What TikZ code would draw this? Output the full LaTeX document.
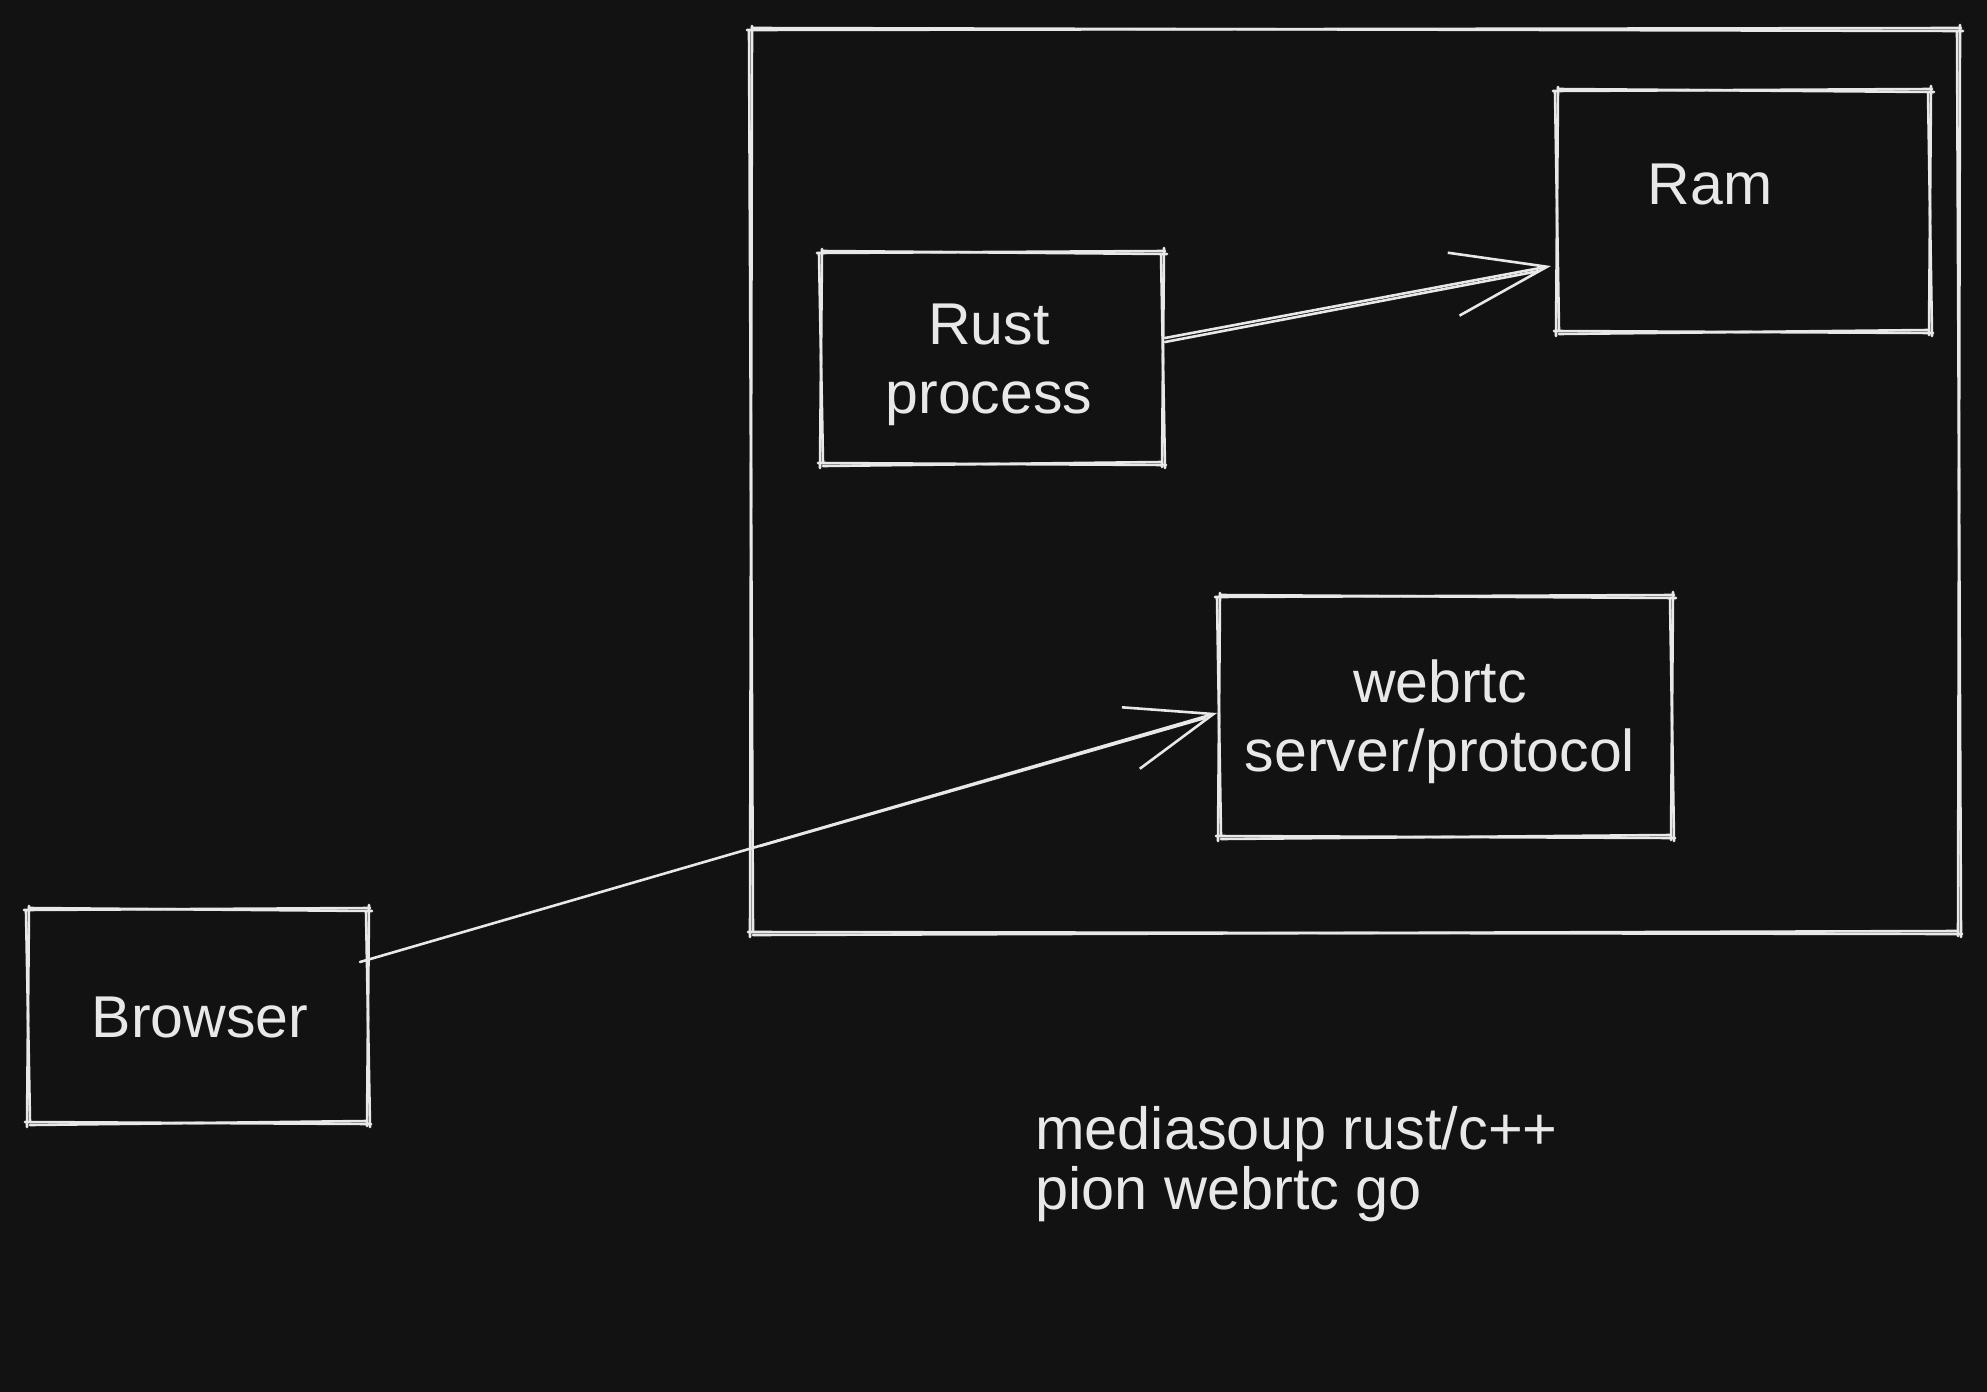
\documentclass[tikz,border=0pt]{standalone}
\usepackage{fontspec}
\setmainfont{Liberation Sans}
\usetikzlibrary{calc,arrows.meta}
\definecolor{bgc}{HTML}{121212}
\definecolor{fgc}{HTML}{E8E8E8}
\tikzset{
  sk/.style={draw=fgc, line width=2.6pt, line cap=round, line join=round},
  boxnode/.style={draw=none, inner sep=0pt, outer sep=0pt},
  txt/.style={text=fgc, inner sep=0pt, align=center, font=\fontsize{59}{69}\selectfont},
  notetxt/.style={text=fgc, inner sep=0pt, align=left, font=\fontsize{59.5}{60}\selectfont},
}
\newcommand\skbox[1]{%
  \draw[sk] ($(#1.north west)+(-4,1)$) -- ($(#1.north east)+(2,-1)$);
  \draw[sk] ($(#1.north west)+(1,-1)$) -- ($(#1.north east)+(4,2)$);
  \draw[sk] ($(#1.north east)+(1,-4)$) -- ($(#1.south east)+(-1,3)$);
  \draw[sk] ($(#1.north east)+(-2,2)$) -- ($(#1.south east)+(2,4)$);
  \draw[sk] ($(#1.south east)+(3,1)$) -- ($(#1.south west)+(-3,-1)$);
  \draw[sk] ($(#1.south east)+(-1,-2)$) -- ($(#1.south west)+(2,2)$);
  \draw[sk] ($(#1.south west)+(-1,4)$) -- ($(#1.north west)+(1,-3)$);
  \draw[sk] ($(#1.south west)+(2,-1)$) -- ($(#1.north west)+(-2,2)$);
}
\begin{document}
\begin{tikzpicture}[x=1pt,y=-1pt]
\fill[bgc] (0,0) rectangle (1987,1392);
\useasboundingbox (0,0) rectangle (1987,1392);

% boxes
\node[boxnode, minimum width=1208pt, minimum height=904pt] (outer) at (1355,481) {};
\node[boxnode, minimum width=373pt, minimum height=242pt] (ram) at (1743.5,211) {};
\node[boxnode, minimum width=342pt, minimum height=212pt] (rust) at (992,358) {};
\node[boxnode, minimum width=453pt, minimum height=241pt] (web) at (1445.5,716.5) {};
\node[boxnode, minimum width=340pt, minimum height=214pt] (browser) at (198,1016) {};
\skbox{outer}
\skbox{ram}
\skbox{rust}
\skbox{web}
\skbox{browser}

% texts (base anchor = baseline of the last line)
\node[txt, anchor=base] (ramtext) at (1710,204) {Ram};
\node[txt, anchor=base] (rusttext) at (989,413) {Rust\\process};
\node[txt, anchor=base] (webtext) at (1440,771) {webrtc\\server/protocol};
\node[txt, anchor=base] (browsertext) at (200,1037) {Browser};
\node[notetxt, anchor=base west] (note) at (1035,1209) {mediasoup rust/c++\\pion webrtc go};

% arrows
\coordinate (a1s) at ($(rust.east)+(2,-20)$);
\coordinate (a1t) at ($(ram.west)+(-6,55)$);
\draw[sk, -{Straight Barb[length=95pt, width=64pt, line width=2.6pt]}] (a1s) -- (a1t);
\draw[sk] ($(a1s)+(0,4)$) -- ($(a1t)+(-12,5)$);

\coordinate (a2s) at ($(browser.east)+(-8,-54)$);
\coordinate (a2t) at ($(web.west)+(-2,-3.5)$);
\draw[sk, -{Straight Barb[length=86pt, width=64pt, line width=2.6pt]}] (a2s) -- (a2t);
\draw[sk] ($(a2s)+(400,-116)$) -- ($(a2t)+(-12,5)$);
\end{tikzpicture}
\end{document}
